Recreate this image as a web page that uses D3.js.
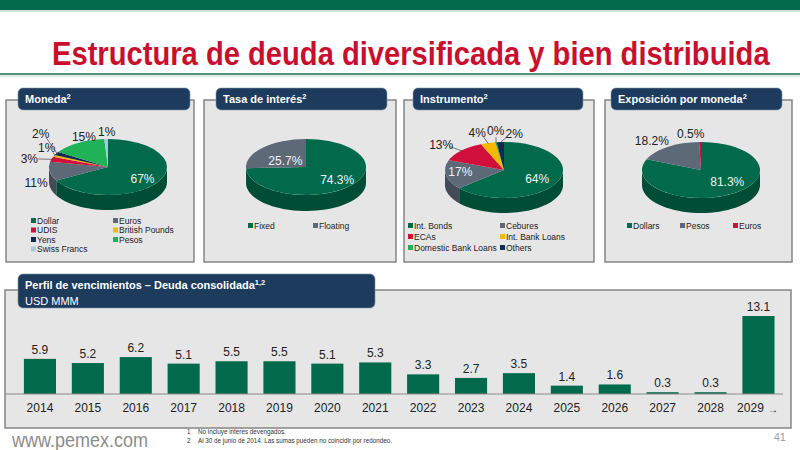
<!DOCTYPE html>
<html>
<head>
<meta charset="utf-8">
<script src="https://cdn.jsdelivr.net/npm/d3@7"></script>
<style>
  html, body { margin: 0; padding: 0; background: #fff; }
  svg { display: block; font-family: "Liberation Sans", Arial, sans-serif; }
  .tab-text { fill: #fff; font-weight: bold; font-size: 11px; }
  .lg { font-size: 8.5px; fill: #222; }
  .pl { font-size: 12px; }
  .yr { font-size: 12px; fill: #222; }
</style>
</head>
<body>
<svg id="chart" width="800" height="450"></svg>
<script>
// ---------- datos ----------
const monedaLabels = ['Dollar', 'Euros', 'UDIS', 'British Pounds', 'Yens', 'Pesos', 'Swiss Francs'];
const monedaValues = [67, 11, 3, 1, 2, 15, 1];

const tasaLabels = ['Fixed', 'Floating'];
const tasaValues = [74.3, 25.7];

const instrumentoLabels = ['Int. Bonds', 'Cebures', 'ECAs', 'Int. Bank Loans', 'Domestic Bank Loans', 'Others'];
const instrumentoValues = [64, 17, 13, 4, 0.4, 2];

const exposicionLabels = ['Dollars', 'Pesos', 'Euros'];
const exposicionValues = [81.3, 18.2, 0.5];

const years = ['2014', '2015', '2016', '2017', '2018', '2019', '2020', '2021',
               '2022', '2023', '2024', '2025', '2026', '2027', '2028', '2029'];
const vencimientos = [5.9, 5.2, 6.2, 5.1, 5.5, 5.5, 5.1, 5.3, 3.3, 2.7, 3.5, 1.4, 1.6, 0.3, 0.3, 13.1];

// ---------- colores ----------
const GREEN = '#006a4a';
const GREY = '#5d6977';
const RED = '#d0103a';
const ORANGE = '#f6b800';
const NAVY = '#0f2b50';
const BRIGHT = '#20b257';
const LIGHTBLUE = '#a8c8da';
const TAB = '#1d3b5c';
const PANEL_BG = '#e6e6e6';
const PANEL_LINE = '#858585';

const svg = d3.select('#chart');

// ajusta un texto a un ancho dado escalándolo en horizontal
function fitWidth(sel, x, y, width) {
    const w = sel.node().getComputedTextLength();
    sel.attr('transform', `translate(${x},${y}) scale(${width / w},1)`);
}

// ---------- cabecera ----------
svg.append('rect').attr('x', 0).attr('y', 0).attr('width', 800).attr('height', 10).attr('fill', GREEN);
svg.append('line').attr('x1', 0).attr('x2', 800).attr('y1', 11).attr('y2', 11).attr('stroke', '#9fc9b6').attr('stroke-width', 1);

const title = svg.append('text')
    .style('font-family', '"Liberation Sans Narrow", "Arial Narrow", "Liberation Sans", sans-serif')
    .style('font-weight', 'bold').style('font-size', '33px')
    .attr('fill', '#c8102e')
    .text('Estructura de deuda diversificada y bien distribuida');
fitWidth(title, 52, 65, 718);

svg.append('line').attr('x1', 0).attr('x2', 800).attr('y1', 74).attr('y2', 74).attr('stroke', '#1f6e50').attr('stroke-width', 1.5);
svg.append('line').attr('x1', 0).attr('x2', 800).attr('y1', 76).attr('y2', 76).attr('stroke', '#b9d9cb').attr('stroke-width', 1);

// ---------- helpers ----------
function panel(x, y, w, h) {
    svg.append('rect').attr('x', x).attr('y', y).attr('width', w).attr('height', h)
        .attr('fill', PANEL_BG).attr('stroke', PANEL_LINE).attr('stroke-width', 1.5);
}

function tab(x, y, w, h, title, sup, sub) {
    svg.append('rect').attr('x', x).attr('y', y).attr('width', w).attr('height', h)
        .attr('rx', 5).attr('fill', TAB).attr('stroke', '#7d93aa').attr('stroke-width', 0.6);
    const t = svg.append('text').attr('class', 'tab-text').attr('x', x + 7).attr('y', y + 15).text(title);
    t.append('tspan').attr('dy', -4).style('font-size', '7.5px').text(sup);
    if (sub) {
        svg.append('text').attr('x', x + 7).attr('y', y + 31).attr('fill', '#fff')
            .style('font-size', '11px').text(sub);
    }
}

function pie3d(cfg) {
    const { cx, cy, rx, ry, depth, values, colors, fmt, lbl } = cfg;
    const arcs = d3.pie().sort(null).value(d => d)(values);
    const pt = (a, r) => [cx + r * rx * Math.sin(a), cy - r * ry * Math.cos(a)];
    const g = svg.append('g');

    // pared lateral (solo la mitad frontal)
    const line = d3.line();
    arcs.forEach((d, i) => {
        const a0 = Math.max(d.startAngle, Math.PI / 2);
        const a1 = Math.min(d.endAngle, 3 * Math.PI / 2);
        if (a1 <= a0) return;
        const n = 40;
        const top = d3.range(n + 1).map(k => pt(a0 + (a1 - a0) * k / n, 1));
        const bot = top.map(p => [p[0], p[1] + depth]).reverse();
        g.append('path').attr('d', line(top.concat(bot)) + 'Z')
            .attr('fill', d3.color(colors[i]).darker(0.9));
    });

    // cara superior
    const face = g.append('g').attr('transform', `translate(${cx},${cy}) scale(1,${ry / rx})`);
    const arc = d3.arc().innerRadius(0).outerRadius(rx);
    face.selectAll('path').data(arcs).join('path')
        .attr('d', arc).attr('fill', (d, i) => colors[i]);

    // etiquetas
    arcs.forEach((d, i) => {
        const o = lbl[i];
        const mid = (d.startAngle + d.endAngle) / 2;
        const p = pt(mid, o.r);
        const lx = p[0] + o.dx, ly = p[1] + o.dy;
        if (o.leader) {
            const e = pt(mid, 0.98);
            const vx = e[0] - lx, vy = e[1] - ly;
            const len = Math.hypot(vx, vy);
            g.append('line')
                .attr('x1', lx + vx / len * 9).attr('y1', ly + vy / len * 6)
                .attr('x2', e[0]).attr('y2', e[1])
                .attr('stroke', '#444').attr('stroke-width', 0.7);
        }
        g.append('text').attr('class', 'pl')
            .attr('x', lx).attr('y', ly).attr('dy', '0.35em')
            .attr('text-anchor', 'middle')
            .attr('fill', o.inside ? '#f2f2f2' : '#222')
            .text(fmt(d.data) + '%');
    });
}

function legend(items, colors, cols, rows) {
    items.forEach((name, i) => {
        const c = i % cols.length, r = Math.floor(i / cols.length);
        const x = cols[c], y = rows[r];
        svg.append('rect').attr('x', x).attr('y', y - 3).attr('width', 5).attr('height', 5).attr('fill', colors[i]);
        svg.append('text').attr('class', 'lg').attr('x', x + 6).attr('y', y + 2.5).text(name);
    });
}

// ---------- paneles superiores ----------
const PY = 100, PH = 162;
panel(6, PY, 188, PH);
panel(204, PY, 192, PH);
panel(404, PY, 190, PH);
panel(605, PY, 187, PH);

tab(18, 88, 172, 22, 'Moneda', '2');
tab(216, 88, 171, 22, 'Tasa de interés', '2');
tab(413, 88, 170, 22, 'Instrumento', '2');
tab(611, 88, 171, 22, 'Exposición por moneda', '2');

const f0 = v => d3.format('.0f')(v);
const f1 = v => d3.format('.1f')(v);

const monedaColors = [GREEN, GREY, RED, ORANGE, NAVY, BRIGHT, LIGHTBLUE];
pie3d({
    cx: 108, cy: 167, rx: 59, ry: 28, depth: 15,
    values: monedaValues, fmt: f0, colors: monedaColors,
    lbl: [
        { r: 0.62, dx: 3, dy: 3, inside: true },
        { r: 1.2, dx: -2, dy: 11 },
        { r: 1.3, dx: -5, dy: 2, leader: true },
        { r: 1.15, dx: 1, dy: -6, leader: true },
        { r: 1.3, dx: 0, dy: -16, leader: true },
        { r: 1.2, dx: 12, dy: -1 },
        { r: 1.25, dx: 1, dy: 0 }
    ]
});
legend(monedaLabels, monedaColors, [31, 113], [221, 230.5, 240, 249.5]);

pie3d({
    cx: 306, cy: 167, rx: 60, ry: 28, depth: 16,
    values: tasaValues, fmt: f1, colors: [GREEN, GREY],
    lbl: [
        { r: 0.65, dx: 3, dy: 0, inside: true },
        { r: 0.5, dx: 1, dy: 3, inside: true }
    ]
});
legend(tasaLabels, [GREEN, GREY], [248, 313], [226]);

const instrumentoColors = [GREEN, GREY, RED, ORANGE, BRIGHT, NAVY];
pie3d({
    cx: 504, cy: 170, rx: 59, ry: 28, depth: 15,
    values: instrumentoValues, fmt: f0, colors: instrumentoColors,
    lbl: [
        { r: 0.6, dx: 1, dy: 2, inside: true },
        { r: 0.7, dx: -3, dy: -2, inside: true },
        { r: 1.45, dx: -1, dy: 3, leader: true },
        { r: 1.3, dx: -6, dy: -2, leader: true },
        { r: 1.4, dx: 3, dy: 0, leader: true },
        { r: 1.3, dx: 15, dy: 0, leader: true }
    ]
});
legend(instrumentoLabels, instrumentoColors, [408, 500], [226, 237, 248]);

pie3d({
    cx: 701, cy: 170, rx: 59, ry: 28, depth: 15,
    values: exposicionValues, fmt: f1, colors: [GREEN, GREY, RED],
    lbl: [
        { r: 0.65, dx: 5, dy: -3, inside: true },
        { r: 1.35, dx: -4, dy: 2 },
        { r: 1.3, dx: -9, dy: 0 }
    ]
});
legend(exposicionLabels, [GREEN, GREY, RED], [627, 680, 733], [226]);

// ---------- perfil de vencimientos ----------
panel(5, 290, 786, 138);
tab(18, 274, 357, 34, 'Perfil de vencimientos – Deuda consolidada', '1,2', 'USD MMM');

const x = d3.scaleBand().domain(years).range([16, 782.4]).paddingInner(0.33).paddingOuter(0.165);
const y = d3.scaleLinear().domain([0, 13.1]).range([394, 316]);

svg.append('g').selectAll('rect').data(vencimientos).join('rect')
    .attr('x', (d, i) => x(years[i]))
    .attr('y', d => y(d))
    .attr('width', x.bandwidth())
    .attr('height', d => y(0) - y(d))
    .attr('fill', GREEN);

svg.append('g').selectAll('text').data(vencimientos).join('text')
    .attr('class', 'yr')
    .attr('x', (d, i) => x(years[i]) + x.bandwidth() / 2)
    .attr('y', d => y(d) - 5)
    .attr('text-anchor', 'middle')
    .text(d => d3.format('.1f')(d));

svg.append('line').attr('x1', 5).attr('x2', 783).attr('y1', y(0)).attr('y2', y(0))
    .attr('stroke', '#8a8a8a').attr('stroke-width', 1);

const xAxis = svg.append('g').attr('transform', `translate(0,${y(0)})`)
    .call(d3.axisBottom(x).tickSize(0).tickPadding(9));
xAxis.select('.domain').remove();
xAxis.selectAll('text').attr('class', 'yr').style('font-family', null).style('font-size', '12px');
// la última etiqueta va desplazada para dejar sitio a la flecha
xAxis.selectAll('.tick').filter(d => d === years[years.length - 1]).select('text').attr('dx', -8);

svg.append('text').attr('x', 768).attr('y', 413).style('font-size', '10px').attr('fill', '#222').text('→');

// ---------- pie de página ----------
const web = svg.append('text').style('font-size', '20px').attr('fill', '#8c8c8c').text('www.pemex.com');
fitWidth(web, 12, 447, 136);

const notes = ['No incluye interes devengados.', 'Al 30 de junio de 2014. Las sumas pueden no coincidir por redondeo.'];
notes.forEach((n, i) => {
    svg.append('text').attr('x', 187).attr('y', 434 + i * 8.5).style('font-size', '6.3px').attr('fill', '#333').text(i + 1);
    svg.append('text').attr('x', 198).attr('y', 434 + i * 8.5).style('font-size', '6.3px').attr('fill', '#333').text(n);
});

svg.append('text').attr('x', 786).attr('y', 441).attr('text-anchor', 'end')
    .style('font-size', '11px').attr('fill', '#9a9a9a').text('41');
</script>
</body>
</html>
